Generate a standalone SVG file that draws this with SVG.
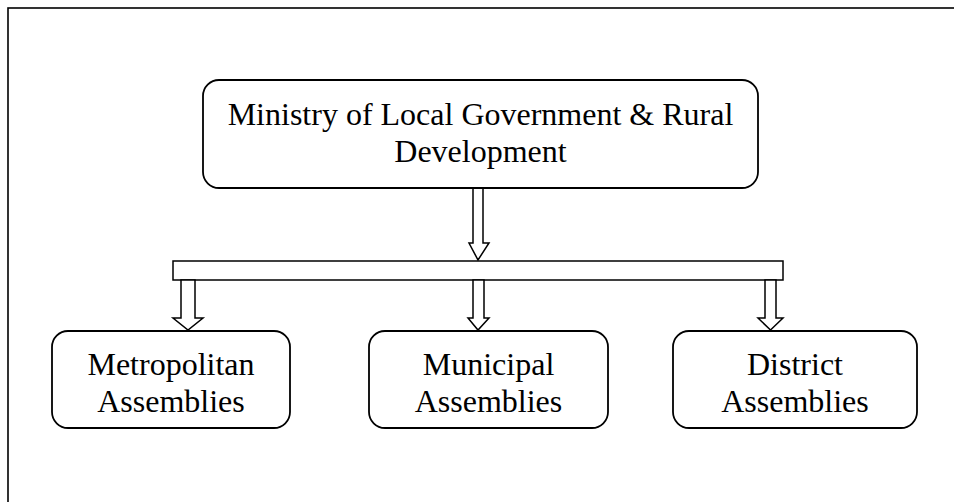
<svg xmlns="http://www.w3.org/2000/svg" width="954" height="502" viewBox="0 0 954 502">
<style>
.box{fill:#fff;stroke:#000;stroke-width:1.8}
.arr{fill:#fff;stroke:#000;stroke-width:1.5;stroke-linejoin:miter}
.t{font-family:"Liberation Serif","Times New Roman",serif;font-size:32px;fill:#000;text-anchor:middle}
</style>
<rect x="0" y="0" width="954" height="502" fill="#fff"/>
<rect x="8" y="8" width="970" height="520" fill="none" stroke="#000" stroke-width="1.6"/>
<g id="connectors">
<path class="arr" d="M473,188 V243 H469 L478,260 L489,243 H483 V188 Z"/>
<rect class="arr" x="173" y="261" width="610" height="19"/>
<path class="arr" d="M181,280 V318 H173 L188,330 L203,318 H195 V280 Z"/>
<path class="arr" d="M473,280 V318 H468 L478,330 L489,318 H484 V280 Z"/>
<path class="arr" d="M765,280 V318 H758 L770.5,330 L783,318 H776 V280 Z"/>
</g>
<g id="ministry">
<rect class="box" x="203" y="80" width="555" height="108" rx="16"/>
<text class="t" x="480.5" y="125">Ministry of Local Government &amp; Rural</text>
<text class="t" x="480.5" y="162">Development</text>
</g>
<g id="metropolitan">
<rect class="box" x="52" y="331" width="238" height="97" rx="16"/>
<text class="t" x="171" y="375">Metropolitan</text>
<text class="t" x="171" y="412">Assemblies</text>
</g>
<g id="municipal">
<rect class="box" x="369" y="331" width="239" height="97" rx="16"/>
<text class="t" x="488.5" y="375">Municipal</text>
<text class="t" x="488.5" y="412">Assemblies</text>
</g>
<g id="district">
<rect class="box" x="673" y="331" width="244" height="97" rx="16"/>
<text class="t" x="795" y="375">District</text>
<text class="t" x="795" y="412">Assemblies</text>
</g>
</svg>
